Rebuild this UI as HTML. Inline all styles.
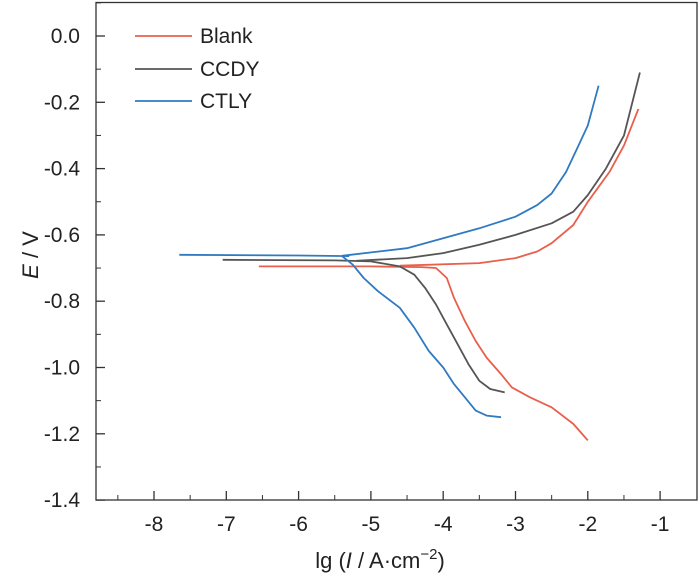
<!DOCTYPE html><html><head><style>body{margin:0;background:#fff}svg text{font-family:"Liberation Sans",Arial,sans-serif;fill:#222}</style></head><body>
<svg id="s" width="700" height="583" xmlns="http://www.w3.org/2000/svg"></svg>
<script>
const s=document.getElementById('s');
const X=v=>154+(v+8)*72.3, Y=e=>36-e/0.2*66.3;
let h='<rect x="96" y="2.5" width="601" height="497.5" fill="none" stroke="#333" stroke-width="1.3"/>';
for(let i=-8;i<=-1;i++){h+=`<line x1="${X(i)}" y1="500" x2="${X(i)}" y2="491" stroke="#333" stroke-width="1.3"/><text x="${X(i)}" y="531" font-size="21" text-anchor="middle">${i}</text>`;
 if(i<-1)h+=`<line x1="${X(i+.5)}" y1="500" x2="${X(i+.5)}" y2="495" stroke="#333"/>`;}
h+=`<line x1="${X(-8.5)}" y1="500" x2="${X(-8.5)}" y2="495" stroke="#333"/>`;
for(let k=0;k<=7;k++){const e=-0.2*k,y=Y(e);h+=`<line x1="96" y1="${y}" x2="105" y2="${y}" stroke="#333" stroke-width="1.3"/><text x="80" y="${y+7}" font-size="21" text-anchor="end">${e.toFixed(1)}</text>`;
 if(k<7)h+=`<line x1="96" y1="${Y(e-.1)}" x2="101" y2="${Y(e-.1)}" stroke="#333"/>`;}
h+=`<line x1="96" y1="${Y(.1)}" x2="101" y2="${Y(.1)}" stroke="#333"/>`;
h+=`<text x="380" y="568" font-size="22" text-anchor="middle">lg (<tspan font-style="italic">I</tspan> / A·cm<tspan dy="-9" font-size="15">−2</tspan><tspan dy="9">)</tspan></text>`;
h+=`<text transform="translate(38,255) rotate(-90)" font-size="22" text-anchor="middle"><tspan font-style="italic">E</tspan> / V</text>`;
const P=a=>a.map(p=>X(p[0]).toFixed(1)+','+Y(p[1]).toFixed(1)).join(' ');
const series=[
['#e8604c',[[-6.55,-.695],[-5,-.695],[-4.3,-.697]],
 [[-4.6,-.693],[-3.5,-.685],[-3,-.67],[-2.7,-.65],[-2.5,-.625],[-2.2,-.57],[-2,-.5],[-1.7,-.41],[-1.5,-.33],[-1.3,-.22]],
 [[-4.3,-.697],[-4.1,-.70],[-3.95,-.73],[-3.85,-.79],[-3.7,-.86],[-3.55,-.92],[-3.4,-.97],[-3.2,-1.02],[-3.05,-1.06],[-2.8,-1.09],[-2.5,-1.12],[-2.2,-1.17],[-2,-1.22]]],
['#555555',[[-7.05,-.675],[-5.5,-.677],[-5,-.68]],
 [[-5.2,-.678],[-4.5,-.67],[-4,-.655],[-3.5,-.63],[-3,-.6],[-2.5,-.565],[-2.2,-.53],[-2,-.48],[-1.75,-.4],[-1.5,-.3],[-1.28,-.11]],
 [[-5,-.68],[-4.6,-.695],[-4.4,-.72],[-4.25,-.76],[-4.1,-.81],[-3.95,-.87],[-3.8,-.93],[-3.65,-.99],[-3.5,-1.04],[-3.35,-1.065],[-3.15,-1.075]]],
['#2f7ac0',[[-7.65,-.66],[-6,-.662],[-5.3,-.664]],
 [[-5.4,-.663],[-4.5,-.64],[-4,-.61],[-3.5,-.58],[-3,-.545],[-2.7,-.51],[-2.5,-.475],[-2.3,-.41],[-2.15,-.34],[-2,-.27],[-1.85,-.15]],
 [[-5.4,-.664],[-5.25,-.69],[-5.1,-.73],[-4.9,-.77],[-4.6,-.82],[-4.4,-.88],[-4.2,-.95],[-4,-1.0],[-3.85,-1.05],[-3.7,-1.09],[-3.55,-1.13],[-3.4,-1.145],[-3.2,-1.15]]]];
for(const [c,...ls] of series)for(const l of ls)h+=`<polyline points="${P(l)}" fill="none" stroke="${c}" stroke-width="1.8" stroke-linejoin="round"/>`;
[['#e8604c','Blank',36],['#555555','CCDY',69],['#2f7ac0','CTLY',101]].forEach(([c,t,y])=>{h+=`<line x1="135" y1="${y}" x2="192" y2="${y}" stroke="${c}" stroke-width="1.8"/><text x="200" y="${y+7}" font-size="21">${t}</text>`;});
s.innerHTML=h;
</script></body></html>
